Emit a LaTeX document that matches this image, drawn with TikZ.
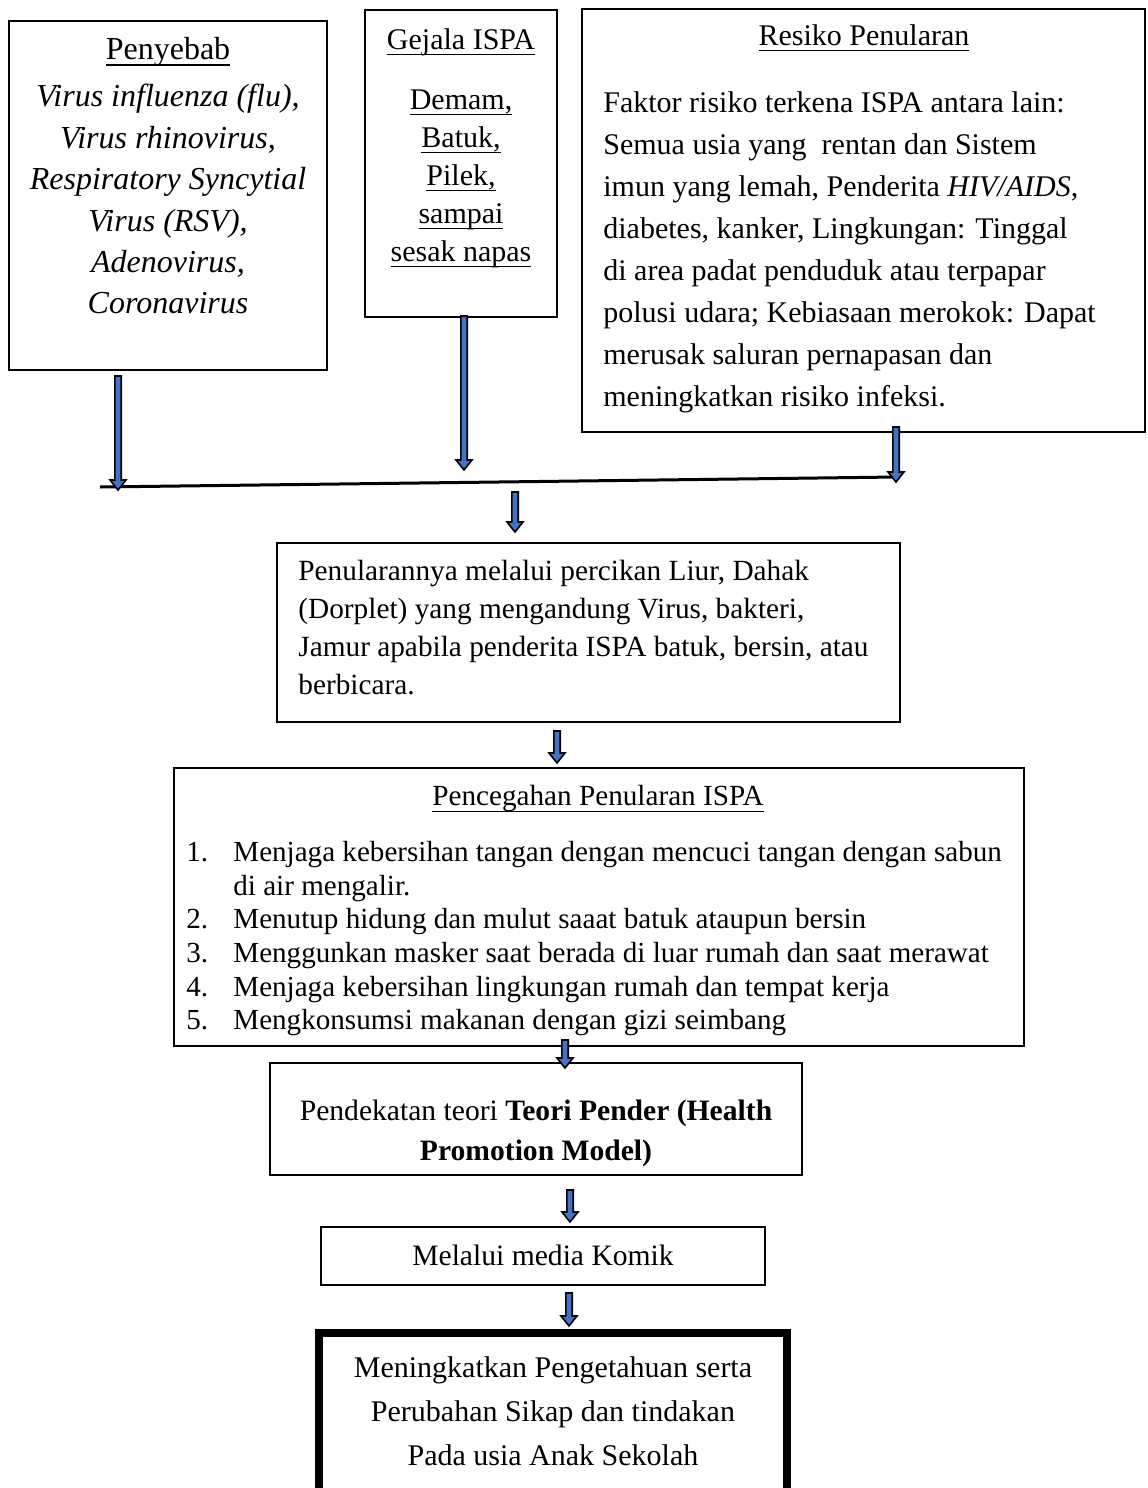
\documentclass[tikz,border=0pt]{standalone}
\usepackage{fontspec}
\setmainfont{Liberation Serif}
\usetikzlibrary{calc,fit}
\definecolor{arrowblue}{HTML}{4472C4}
\newcommand\uln[1]{\setbox0\hbox{#1}\rlap{\rule[-3pt]{\wd0}{0.7pt}}\box0}
\newcommand\barrow[2]{%
  \draw[arr] let \p1=(#1), \p2=(#2) in
    (\x1-1.6pt,\y1) -- (\x1-1.6pt,\y2+5pt) -- (\x1-4pt,\y2+5pt) -- (\x1,\y2)
    -- (\x1+4pt,\y2+5pt) -- (\x1+1.6pt,\y2+5pt) -- (\x1+1.6pt,\y1) -- cycle;}
\begin{document}
\begin{tikzpicture}[x=0.5pt,y=-0.5pt,
  box/.style={draw, line width=0.85pt, inner sep=0pt},
  txt/.style={inner sep=0pt, font=\fontsize{15}{21}\selectfont},
  arr/.style={fill=arrowblue, draw=black, line width=0.8pt, line join=miter}]
\useasboundingbox (0,0) rectangle (1147,1488);
\clip (0,0) rectangle (1147,1488);

% Penyebab
\node[box, fit={(9,21)(327,370)}] (pen) {};
\node[txt, font=\fontsize{16}{21}\selectfont] (penT) at (168,52) {\uln{Penyebab}};
\node[txt, anchor=north, align=center, font=\fontsize{16}{20.7}\selectfont\itshape] (penB) at (168,84)
  {Virus influenza (flu),\\ Virus rhinovirus,\\ Respiratory Syncytial\\ Virus (RSV),\\ Adenovirus,\\ Coronavirus};

% Gejala
\node[box, fit={(365,10)(557,317)}] (gej) {};
\node[txt] (gejT) at (461,42) {\uln{Gejala ISPA}};
\node[txt, anchor=north, align=center, font=\fontsize{15}{19}\selectfont] (gejB) at (461,89)
  {\uln{Demam,}\\ \uln{Batuk,}\\ \uln{Pilek,}\\ \uln{sampai}\\ \uln{sesak napas}};

% Resiko
\node[box, fit={(582,9)(1145,432)}] (res) {};
\node[txt] (resT) at (864,38) {\uln{Resiko Penularan}};
\node[txt, anchor=north west, align=left, font=\fontsize{15}{21}\selectfont] (resB) at (603,91)
  {Faktor risiko terkena ISPA antara lain:\\
   Semua usia yang\ \ rentan dan Sistem\\
   imun yang lemah, Penderita \textit{HIV/AIDS},\\
   diabetes, kanker, Lingkungan: Tinggal\\
   di area padat penduduk atau terpapar\\
   polusi udara; Kebiasaan merokok: Dapat\\
   merusak saluran pernapasan dan\\
   meningkatkan risiko infeksi.};

% bus line
\coordinate (busL) at (100,487);
\coordinate (busR) at (897,477);
\draw[line width=1.5pt] (busL) -- (busR);

% Penularan
\node[box, fit={(277,543)(900,722)}] (nul) {};
\node[txt, anchor=north west, align=left, font=\fontsize{14.65}{19}\selectfont] (nulB) at (298,560)
  {Penularannya melalui percikan Liur, Dahak\\
   (Dorplet) yang mengandung Virus, bakteri,\\
   Jamur apabila penderita ISPA batuk, bersin, atau\\
   berbicara.};

% Pencegahan
\node[box, fit={(174,768)(1024,1046)}] (ceg) {};
\node[txt, font=\fontsize{14.6}{17}\selectfont] (cegT) at (598,799) {\uln{Pencegahan Penularan ISPA}};
\node[txt, anchor=north west, align=left, font=\fontsize{14.55}{16.8}\selectfont] (cegB) at (186,841)
  {\makebox[23.5pt][l]{1.}Menjaga kebersihan tangan dengan mencuci tangan dengan sabun\\
   \hspace*{23.5pt}di air mengalir.\\
   \makebox[23.5pt][l]{2.}Menutup hidung dan mulut saaat batuk ataupun bersin\\
   \makebox[23.5pt][l]{3.}Menggunkan masker saat berada di luar rumah dan saat merawat\\
   \makebox[23.5pt][l]{4.}Menjaga kebersihan lingkungan rumah dan tempat kerja\\
   \makebox[23.5pt][l]{5.}Mengkonsumsi makanan dengan gizi seimbang};

% Pender
\node[box, fit={(270,1063)(802,1175)}] (pend) {};
\node[txt, align=center, font=\fontsize{14.8}{20}\selectfont] (pendB) at (536,1133)
  {Pendekatan teori \textbf{Teori Pender (Health}\\ \textbf{Promotion Model)}};

% Komik
\node[box, fit={(321,1227)(765,1285)}] (kom) {};
\node[txt, font=\fontsize{14.8}{20}\selectfont] (komB) at (543,1255) {Melalui media Komik};

% Final
\node[draw, line width=4pt, inner sep=0pt, fit={(319,1333)(787,1600)}] (fin) {};
\node[txt, anchor=north, align=center, font=\fontsize{15}{22}\selectfont] (finB) at (553,1356)
  {Meningkatkan Pengetahuan serta\\ Perubahan Sikap dan tindakan\\ Pada usia Anak Sekolah};

% arrows
\coordinate (a1s) at (118,376); \coordinate (a1e) at (118,490);
\coordinate (a2s) at (464,316); \coordinate (a2e) at (464,470);
\coordinate (a3s) at (896,427); \coordinate (a3e) at (896,482);
\coordinate (a4s) at (515,492); \coordinate (a4e) at (515,532);
\coordinate (a5s) at (557,731); \coordinate (a5e) at (557,763);
\coordinate (a6s) at (565,1040); \coordinate (a6e) at (565,1068);
\coordinate (a7s) at (570,1190); \coordinate (a7e) at (570,1222);
\coordinate (a8s) at (569,1293); \coordinate (a8e) at (569,1326);
\barrow{a1s}{a1e}
\barrow{a2s}{a2e}
\barrow{a3s}{a3e}
\barrow{a4s}{a4e}
\barrow{a5s}{a5e}
\barrow{a6s}{a6e}
\barrow{a7s}{a7e}
\barrow{a8s}{a8e}
\end{tikzpicture}
\end{document}
